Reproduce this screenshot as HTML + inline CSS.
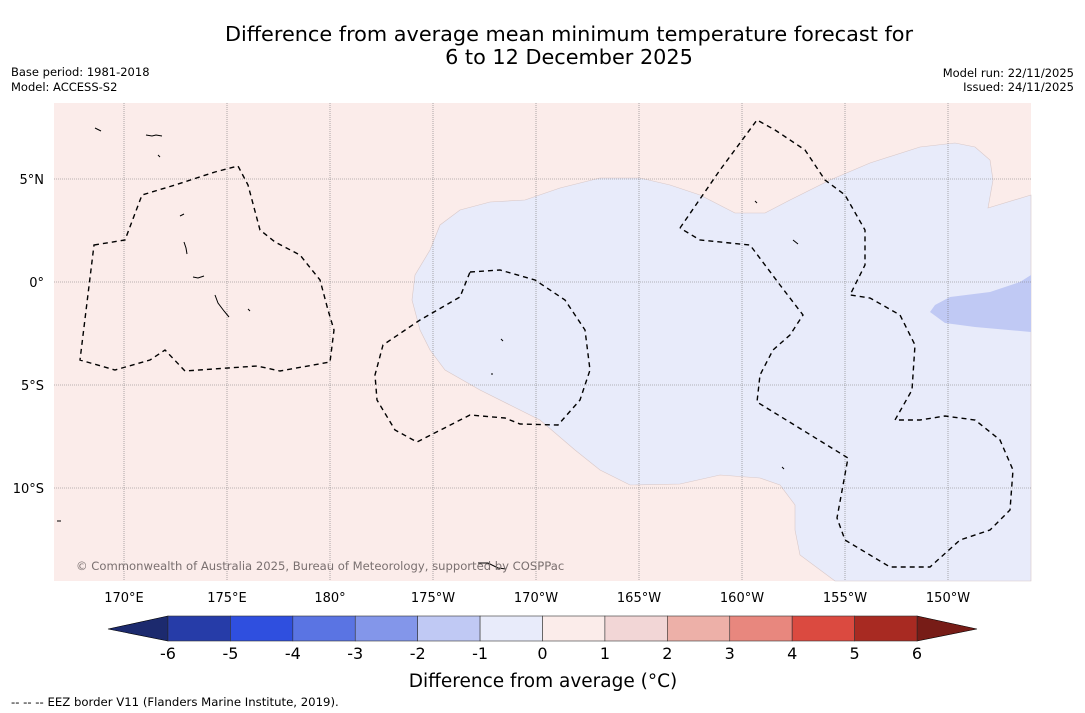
<!DOCTYPE html>
<html><head><meta charset="utf-8">
<style>
body{margin:0;background:#fff;width:1085px;height:713px;overflow:hidden;font-family:"DejaVu Sans","Liberation Sans",sans-serif;}
</style></head><body>
<svg width="1085" height="713" style="position:absolute;left:0;top:0">
<text x="569" y="41" text-anchor="middle" font-size="20.8">Difference from average mean minimum temperature forecast for</text>
<text x="569" y="64" text-anchor="middle" font-size="20.8">6 to 12 December 2025</text>
<text x="11" y="76" font-size="11.5">Base period: 1981-2018</text>
<text x="11" y="91" font-size="11.5">Model: ACCESS-S2</text>
<text x="1074" y="77" font-size="11.5" text-anchor="end">Model run: 22/11/2025</text>
<text x="1074" y="91" font-size="11.5" text-anchor="end">Issued: 24/11/2025</text>
<g>
<rect x="54" y="103" width="977" height="478" fill="#fbecea"/>
<polygon fill="#e8ebfa" stroke="#d8c8c8" stroke-width="0.6" points="835,581 800,555 795,530 795,505 780,485 760,478 720,475 680,484 630,485 600,470 575,450 540,420 510,405 480,390 445,370 430,350 420,330 412,300 415,275 430,250 440,225 460,210 490,202 525,200 560,188 600,178 640,178 670,185 700,195 735,213 765,213 790,200 830,180 870,163 920,147 955,143 975,147 990,160 993,180 988,208 1031,195 1031,581"/>
<polygon fill="#c0c9f4" points="1031,275 1020,282 990,292 950,297 935,305 930,312 945,323 975,327 1031,332"/>
<g id="grid" stroke="#777" stroke-width="0.6" stroke-dasharray="1,1"></g>
<g fill="none" stroke="#000" stroke-width="1.4" stroke-dasharray="5,4">
<polygon points="94,245 125,240 142,195 175,185 215,172 238,166 248,185 260,230 275,242 300,255 320,280 328,310 334,330 330,362 280,371 257,366 185,371 165,350 150,360 115,370 80,360"/>
<polygon points="470,272 500,270 535,280 565,300 585,330 590,370 580,400 558,425 520,424 505,418 470,415 417,442 395,430 377,400 375,375 383,345 420,320 460,297"/>
<polyline points="680,228 720,170 757,120 775,130 805,150 825,180 845,195 865,230 865,265 850,295 870,298 900,315 915,345 912,390 895,420 920,420 945,416 975,420 1000,440 1013,470 1010,510 990,530 960,540 930,567 890,567 845,540 837,518 848,458 757,402 760,375 773,350 790,335 803,315 780,285 750,245 700,240 680,228"/>
</g>
<g fill="none" stroke="#000" stroke-width="1">
<path d="M146,135 l6,1 l4,-1 l6,1"/><path d="M180,216 l4,-2"/><path d="M184,242 l2,6 l1,6"/><path d="M193,277 l5,1 l6,-2"/><path d="M215,295 l3,8 l6,8 l5,6"/><path d="M501,339 l2,2"/><path d="M755,201 l2,2"/><path d="M793,240 l5,4"/><path d="M478,563 l10,0 l10,5 l8,1"/><path d="M57,521 l4,0"/><path d="M782,467 l2,2"/><path d="M95,128 l6,3"/><path d="M158,155 l2,2"/><path d="M248,309 l2,2"/><path d="M491,374 l2,0"/>
</g>
<text x="76" y="570" font-size="11.6" fill="#7a7070">© Commonwealth of Australia 2025, Bureau of Meteorology, supported by COSPPac</text>
</g>
<g id="axes" font-size="13"></g>
<g id="cbar"></g>
<text x="543" y="687" text-anchor="middle" font-size="18.5">Difference from average (°C)</text>
<text x="11" y="706" font-size="11.7">-- -- -- EEZ border V11 (Flanders Marine Institute, 2019).</text>
</svg>
<script>
const lonTicks=[170,175,180,185,190,195,200,205,210];
const lonLabels=["170°E","175°E","180°","175°W","170°W","165°W","160°W","155°W","150°W"];
const latTicks=[5,0,-5,-10];
const latLabels=["5°N","0°","5°S","10°S"];
const cbLevels=[-6,-5,-4,-3,-2,-1,0,1,2,3,4,5,6];
const cbColors=["#263ca8","#2f4fdf","#5a74e3","#8396ea","#c0c9f4","#e8ebfa","#fbecea","#f2d6d6","#edb0a8","#e8877e","#db4a40","#a82a22"];
const NS="http://www.w3.org/2000/svg";
const xl=l=>124+(l-170)*20.6, yl=l=>282-l*20.6;
const cx=v=>168+(v+6)*(917-168)/12;
function mk(t,a,p){const e=document.createElementNS(NS,t);for(const k in a)e.setAttribute(k,a[k]);p.appendChild(e);return e;}
const g=document.getElementById('grid'),ax=document.getElementById('axes'),cb=document.getElementById('cbar');
lonTicks.forEach((l,i)=>{const x=xl(l);
const ln=mk('line',{x1:x,x2:x,y1:103,y2:581},g);


const t=mk('text',{x:x,y:602,'text-anchor':'middle'},ax);t.textContent=lonLabels[i];

});
latTicks.forEach((l,i)=>{const y=yl(l);
const ln=mk('line',{x1:54,x2:1031,y1:y,y2:y},g);


const t=mk('text',{x:44,y:y+5,'text-anchor':'end'},ax);t.textContent=latLabels[i];

});
const la=mk('polygon',{points:`108,629 ${cx(-6)},616 ${cx(-6)},641`,fill:"#1c2a6e",stroke:"#000","stroke-width":0.6},cb);


const ra=mk('polygon',{points:`977,629 ${cx(6)},616 ${cx(6)},641`,fill:"#771c17",stroke:"#000","stroke-width":0.6},cb);


cbColors.forEach((c,i)=>{const r=mk('rect',{x:cx(cbLevels[i]),y:616,width:cx(cbLevels[i+1])-cx(cbLevels[i]),height:25,fill:c,stroke:"#333","stroke-width":0.6},cb);

});
cbLevels.forEach(v=>{const t=mk('text',{x:cx(v),y:659,'text-anchor':'middle','font-size':16},cb);t.textContent=v;

});
</script>
</body></html>
